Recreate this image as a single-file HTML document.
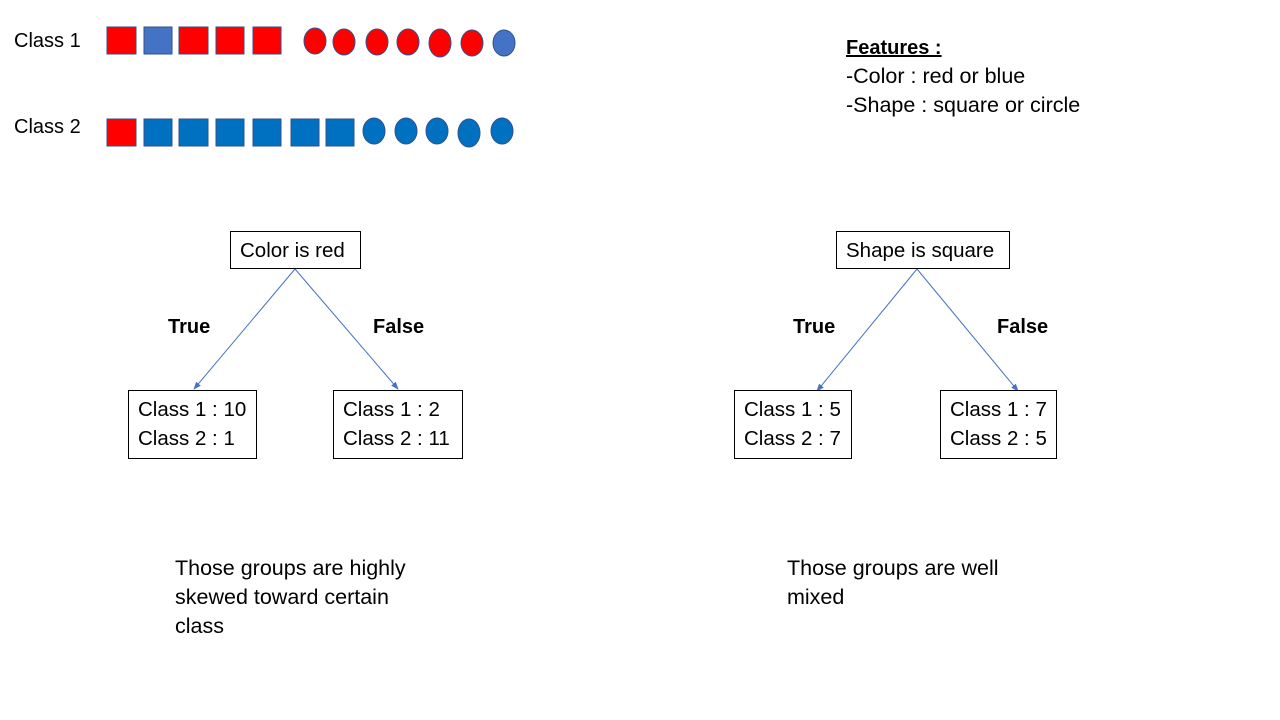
<!DOCTYPE html>
<html><head><meta charset="utf-8"><style>
body{margin:0;width:1280px;height:720px;background:#fff;overflow:hidden;position:relative;font-family:"Liberation Sans",sans-serif;color:#000}
.t{position:absolute;font-size:21.5px;line-height:29px;white-space:nowrap}
.box{position:absolute;border:1px solid #000;box-sizing:border-box;padding:5px 0 0 9px;font-size:20.5px;line-height:29px;background:#fff;white-space:nowrap}
</style></head><body>
<div class="t" style="left:14px;top:27px;font-size:20px">Class 1</div>
<div class="t" style="left:14px;top:113px;font-size:20px">Class 2</div>
<svg width="1280" height="720" style="position:absolute;left:0;top:0">
<defs><marker id="ar" markerWidth="8" markerHeight="8" refX="7" refY="4" orient="auto"><path d="M0,1 L8,4 L0,7 z" fill="#4472C4"/></marker></defs>
<g stroke="#2F528F" stroke-width="1">
<rect x="107" y="27" width="29" height="27" fill="#FF0000"/>
<rect x="144" y="27" width="28" height="27" fill="#4472C4"/>
<rect x="179" y="27" width="29" height="27" fill="#FF0000"/>
<rect x="216" y="27" width="28" height="27" fill="#FF0000"/>
<rect x="253" y="27" width="28" height="27" fill="#FF0000"/>
<ellipse cx="315" cy="41" rx="11" ry="13" fill="#FF0000"/>
<ellipse cx="344" cy="42" rx="11" ry="13" fill="#FF0000"/>
<ellipse cx="377" cy="42" rx="11" ry="13" fill="#FF0000"/>
<ellipse cx="408" cy="42" rx="11" ry="13" fill="#FF0000"/>
<ellipse cx="440" cy="43" rx="11" ry="14" fill="#FF0000"/>
<ellipse cx="472" cy="43" rx="11" ry="13" fill="#FF0000"/>
<ellipse cx="504" cy="43" rx="11" ry="13" fill="#4472C4"/>
<rect x="107" y="119" width="29" height="27" fill="#FF0000"/>
<rect x="144" y="119" width="28" height="27" fill="#0070C0"/>
<rect x="179" y="119" width="29" height="27" fill="#0070C0"/>
<rect x="216" y="119" width="28" height="27" fill="#0070C0"/>
<rect x="253" y="119" width="28" height="27" fill="#0070C0"/>
<rect x="291" y="119" width="28" height="27" fill="#0070C0"/>
<rect x="326" y="119" width="28" height="27" fill="#0070C0"/>
<ellipse cx="374" cy="131" rx="11" ry="13" fill="#0070C0"/>
<ellipse cx="406" cy="131" rx="11" ry="13" fill="#0070C0"/>
<ellipse cx="437" cy="131" rx="11" ry="13" fill="#0070C0"/>
<ellipse cx="469" cy="133" rx="11" ry="14" fill="#0070C0"/>
<ellipse cx="502" cy="131" rx="11" ry="13" fill="#0070C0"/>
</g>
<g stroke="#4472C4" stroke-width="1" marker-end="url(#ar)">
<line x1="295" y1="269" x2="194" y2="389"/>
<line x1="295" y1="269" x2="398" y2="389"/>
<line x1="917" y1="269" x2="817" y2="391"/>
<line x1="917" y1="269" x2="1018" y2="391"/>
</g>
</svg>
<div class="t" style="left:846px;top:34px;font-weight:bold;text-decoration:underline;font-size:20px">Features :</div>
<div class="t" style="left:846px;top:62px">-Color : red or blue</div>
<div class="t" style="left:846px;top:91px">-Shape : square or circle</div>
<div class="box" style="left:230px;top:231px;width:131px;height:38px;padding-top:4px">Color is red</div>
<div class="box" style="left:836px;top:231px;width:174px;height:38px;padding-top:4px">Shape is square</div>
<div class="t" style="left:168px;top:313px;font-weight:bold;font-size:20px">True</div>
<div class="t" style="left:373px;top:313px;font-weight:bold;font-size:20px">False</div>
<div class="t" style="left:793px;top:313px;font-weight:bold;font-size:20px">True</div>
<div class="t" style="left:997px;top:313px;font-weight:bold;font-size:20px">False</div>
<div class="box" style="left:128px;top:390px;width:129px;height:69px;padding-top:4px">Class 1 : 10<br>Class 2 : 1</div>
<div class="box" style="left:333px;top:390px;width:130px;height:69px;padding-top:4px">Class 1 : 2<br>Class 2 : 11</div>
<div class="box" style="left:734px;top:390px;width:118px;height:69px;padding-top:4px">Class 1 : 5<br>Class 2 : 7</div>
<div class="box" style="left:940px;top:390px;width:117px;height:69px;padding-top:4px">Class 1 : 7<br>Class 2 : 5</div>
<div class="t" style="left:175px;top:554px">Those groups are highly<br>skewed toward certain<br>class</div>
<div class="t" style="left:787px;top:554px">Those groups are well<br>mixed</div>
</body></html>
